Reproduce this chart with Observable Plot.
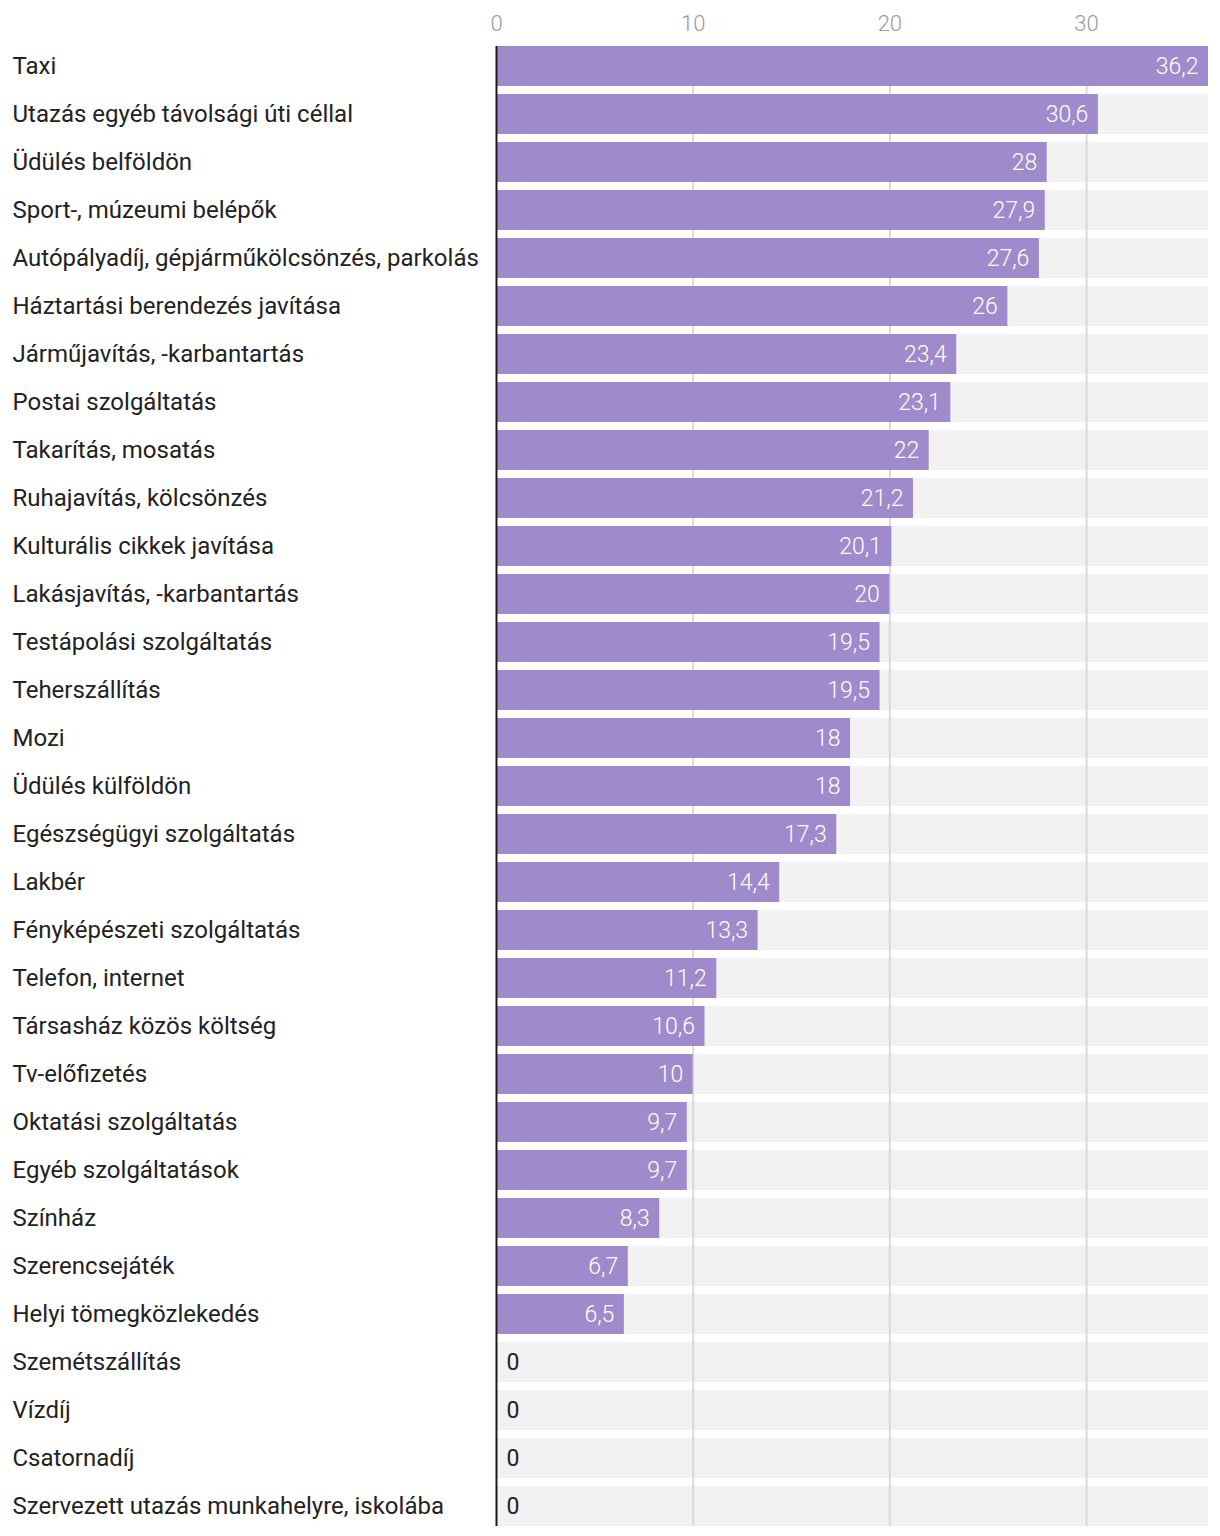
<!DOCTYPE html>
<html>
<head>
<meta charset="utf-8">
<script src="https://cdn.jsdelivr.net/npm/d3@7"></script>
<script src="https://cdn.jsdelivr.net/npm/@observablehq/plot@0.6"></script>
<style>
  html, body { margin: 0; padding: 0; background: #fff; }
  #chart svg { display: block; }
</style>
</head>
<body>
<div id="chart"></div>
<script>
const categories = [
  "Taxi",
  "Utazás egyéb távolsági úti céllal",
  "Üdülés belföldön",
  "Sport-, múzeumi belépők",
  "Autópályadíj, gépjárműkölcsönzés, parkolás",
  "Háztartási berendezés javítása",
  "Járműjavítás, -karbantartás",
  "Postai szolgáltatás",
  "Takarítás, mosatás",
  "Ruhajavítás, kölcsönzés",
  "Kulturális cikkek javítása",
  "Lakásjavítás, -karbantartás",
  "Testápolási szolgáltatás",
  "Teherszállítás",
  "Mozi",
  "Üdülés külföldön",
  "Egészségügyi szolgáltatás",
  "Lakbér",
  "Fényképészeti szolgáltatás",
  "Telefon, internet",
  "Társasház közös költség",
  "Tv-előfizetés",
  "Oktatási szolgáltatás",
  "Egyéb szolgáltatások",
  "Színház",
  "Szerencsejáték",
  "Helyi tömegközlekedés",
  "Szemétszállítás",
  "Vízdíj",
  "Csatornadíj",
  "Szervezett utazás munkahelyre, iskolába"
];
const values = [36.2, 30.6, 28, 27.9, 27.6, 26, 23.4, 23.1, 22, 21.2, 20.1, 20, 19.5, 19.5, 18, 18, 17.3, 14.4, 13.3, 11.2, 10.6, 10, 9.7, 9.7, 8.3, 6.7, 6.5, 0, 0, 0, 0];
const xTicks = [0, 10, 20, 30];

const data = categories.map((name, i) => ({name, value: values[i]}));
const xMax = d3.max(values);
const fmt = v => String(v).replace(".", ",");
const font = "Roboto, 'Noto Sans', sans-serif";

const chart = Plot.plot({
  width: 1220,
  height: 1536,
  marginTop: 38,
  marginBottom: 2,
  marginLeft: 496,
  marginRight: 12,
  style: {fontFamily: font, fontSize: "22px", background: "#fff"},
  x: {domain: [0, xMax], axis: null, label: null},
  y: {domain: categories, padding: 1/6, axis: null},
  marks: [
    Plot.barX(data, {y: "name", x1: 0, x2: xMax, fill: "#f2f2f2"}),
    Plot.ruleX(xTicks.filter(d => d > 0), {stroke: "#dadada", strokeWidth: 2, insetTop: 8, insetBottom: 8}),
    Plot.barX(data.filter(d => d.value > 0), {y: "name", x: "value", fill: "#9f8bcb"}),
    Plot.ruleX([0], {stroke: "#1a1a1a", strokeWidth: 2, insetTop: 8, insetBottom: 8}),
    Plot.axisX({anchor: "top", label: null, ticks: xTicks, tickSize: 0, tickPadding: 8, tickFormat: d => d, fill: "#9a9a9a", fontSize: 22, fontWeight: 300}),
    Plot.text(data, {y: "name", text: "name", frameAnchor: "left", dx: -484, textAnchor: "start", fill: "#222", fontSize: 24}),
    Plot.text(data.filter(d => d.value > 0), {y: "name", x: "value", text: d => fmt(d.value), textAnchor: "end", dx: -10, fill: "#fff", fontSize: 23, fontWeight: 300}),
    Plot.text(data.filter(d => d.value === 0), {y: "name", x: "value", text: d => fmt(d.value), textAnchor: "start", dx: 10, fill: "#222", fontSize: 23})
  ]
});
document.getElementById("chart").appendChild(chart);
</script>
</body>
</html>
